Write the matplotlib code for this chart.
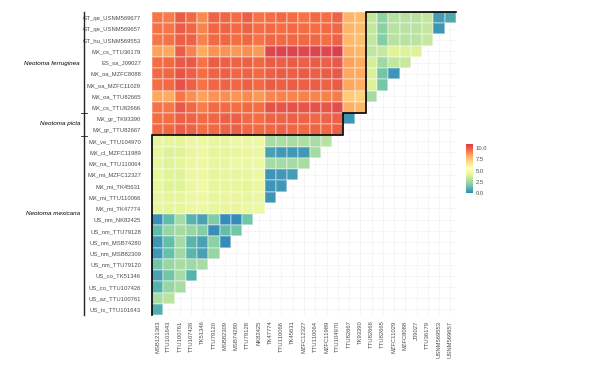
import numpy as np
import matplotlib
matplotlib.use("Agg")
import matplotlib.pyplot as plt
from matplotlib.colors import LinearSegmentedColormap, Normalize

plt.rcParams['font.family'] = ['Liberation Sans', 'DejaVu Sans']

# row labels (top to bottom) and column labels (left to right)
row_labels = ["GT_qe_USNM569677", "GT_qe_USNM569657", "GT_hu_USNM569553", "MX_cs_TTU36179",
              "ES_sa_J09027", "MX_oa_MZFC8088", "MX_oa_MZFC11029", "MX_oa_TTU82665",
              "MX_cs_TTU82666", "MX_gr_TK93390", "MX_gr_TTU82667", "MX_ve_TTU104970",
              "MX_cl_MZFC11989", "MX_na_TTU110064", "MX_mi_MZFC12327", "MX_mi_TK45631",
              "MX_mi_TTU110066", "MX_mi_TK47774", "US_nm_NK82425", "US_nm_TTU79128",
              "US_nm_MSB74280", "US_nm_MSB82309", "US_nm_TTU79120", "US_co_TK51346",
              "US_co_TTU107426", "US_az_TTU100761", "US_tx_TTU101643"]
col_labels = ["MSB121363", "TTU101643", "TTU100761", "TTU107426", "TK51346", "TTU79120",
              "MSB82309", "MSB74280", "TTU79128", "NK82425", "TK47774", "TTU110066",
              "TK45631", "MZFC12327", "TTU110064", "MZFC11989", "TTU104970", "TTU82667",
              "TK93390", "TTU82666", "TTU82665", "MZFC11029", "MZFC8088", "J09027",
              "TTU36179", "USNM569553", "USNM569657"]

# ferruginea rows vs mexicana columns
ferr_vs_mex = [
    [9.3, 9.2, 10.0, 9.6, 8.9, 9.8, 9.7, 9.5, 9.9, 9.4, 9.5, 9.6, 9.5, 9.4, 9.6, 9.5, 9.8],
    [9.4, 9.3, 10.0, 9.7, 9.0, 9.7, 9.8, 9.6, 9.8, 9.5, 9.6, 9.5, 9.6, 9.5, 9.5, 9.6, 9.7],
    [9.3, 9.4, 9.9, 9.8, 9.1, 9.6, 9.7, 9.5, 9.7, 9.4, 9.7, 9.6, 9.7, 9.6, 9.7, 9.5, 9.8],
    [8.4, 8.3, 10.0, 9.1, 8.2, 8.7, 8.7, 8.6, 8.8, 8.6, 10.6, 10.7, 10.7, 10.6, 10.7, 10.6, 10.8],
    [9.5, 9.6, 10.1, 10.1, 9.4, 10.0, 9.9, 9.8, 9.9, 9.7, 10.0, 9.9, 10.0, 9.9, 10.0, 9.9, 10.1],
    [9.6, 9.7, 10.2, 9.9, 9.5, 9.8, 9.9, 9.7, 9.8, 9.6, 9.9, 10.0, 9.9, 10.0, 9.9, 10.0, 10.1],
    [9.5, 9.6, 10.3, 9.9, 9.4, 9.7, 9.8, 9.7, 9.9, 9.6, 10.0, 9.9, 10.0, 9.9, 10.0, 9.8, 10.0],
    [8.3, 8.2, 9.3, 8.8, 8.4, 8.7, 8.8, 8.7, 8.9, 8.6, 9.0, 9.1, 9.0, 9.1, 9.0, 9.1, 9.2],
    [9.4, 9.3, 10.1, 9.7, 9.2, 9.6, 9.6, 9.5, 9.6, 9.5, 10.3, 10.2, 10.3, 10.2, 10.3, 10.2, 10.4],
]
# ferruginea rows vs picta columns
ferr_vs_picta = [[8.0, 7.8], [8.0, 7.8], [7.9, 7.7], [8.1, 7.9], [8.4, 8.2],
                 [8.3, 8.2], [8.3, 8.1], [7.4, 7.2], [8.1, 7.9]]
# within ferruginea
ferr_within = [
    [3.3, 2.2, 3.0, 3.0, 3.1, 3.3, 0.5, 0.8],
    [3.3, 2.1, 3.0, 3.0, 3.1, 3.3, 0.3],
    [3.3, 2.0, 3.0, 3.0, 3.1, 3.4],
    [3.2, 3.4, 4.0, 3.9, 3.9],
    [3.7, 2.5, 3.3, 3.4],
    [3.8, 1.6, 0.3],
    [3.9, 1.7],
    [2.6],
]
# picta rows vs mexicana columns
picta_vs_mex = [
    [9.5, 9.5, 9.9, 9.8, 9.6, 9.7, 9.9, 9.9, 9.6, 9.5, 9.8, 9.8, 9.9, 9.8, 9.7, 9.8, 9.9],
    [9.6, 9.7, 10.0, 9.8, 9.5, 9.6, 9.8, 9.9, 9.7, 9.6, 9.7, 9.8, 9.7, 9.6, 9.8, 9.7, 9.9],
]
picta_within = [0.3]
# Mexican mexicana rows vs US mexicana columns
mx_vs_us = [
    [4.3, 4.2, 4.1, 4.4, 4.5, 4.3, 4.3, 4.4, 4.4, 4.5],
    [4.2, 3.9, 4.0, 4.3, 4.5, 4.2, 4.2, 4.3, 4.3, 4.4],
    [4.2, 4.0, 4.1, 4.4, 4.5, 4.3, 4.3, 4.4, 4.4, 4.5],
    [4.2, 4.0, 3.9, 4.4, 4.5, 4.1, 4.3, 4.2, 4.3, 4.5],
    [4.3, 4.0, 4.0, 4.4, 4.6, 4.2, 4.2, 4.3, 4.1, 4.4],
    [4.3, 4.1, 4.2, 4.4, 4.5, 4.2, 4.3, 4.3, 4.3, 4.4],
    [4.3, 4.2, 4.2, 4.4, 4.5, 4.3, 4.3, 4.3, 4.4, 4.5],
]
mx_within = [
    [2.7, 2.8, 2.7, 2.8, 2.7, 3.0],
    [0.6, 0.4, 0.4, 0.4, 2.6],
    [2.6, 2.6, 2.6, 2.7],
    [0.3, 0.4, 0.5],
    [0.3, 0.4],
    [0.3],
]
us_within = [
    [0.2, 1.2, 2.6, 1.0, 0.6, 1.9, 0.1, 0.1, 1.6],
    [1.2, 2.3, 2.6, 2.4, 2.0, 0.2, 1.3, 1.6],
    [0.3, 1.3, 2.6, 1.1, 0.6, 2.1, 0.1],
    [0.4, 1.4, 2.5, 1.1, 0.6, 2.3],
    [1.6, 2.4, 2.7, 2.5, 2.6],
    [0.6, 1.6, 2.6, 1.0],
    [1.0, 2.3, 2.7],
    [2.7, 3.1],
    [0.9],
]

n = len(row_labels)
M = np.full((n, n), np.nan)
for i, r in enumerate(ferr_vs_mex):
    M[i, 0:17] = r
    M[i, 17:19] = ferr_vs_picta[i]
for i, r in enumerate(ferr_within):
    M[i, 19:19 + len(r)] = r
for i, r in enumerate(picta_vs_mex):
    M[9 + i, 0:17] = r
M[9, 17] = picta_within[0]
for i, r in enumerate(mx_vs_us):
    M[11 + i, 0:10] = r
for i, r in enumerate(mx_within):
    M[11 + i, 10:10 + len(r)] = r
for i, r in enumerate(us_within):
    M[18 + i, 0:len(r)] = r

spectral9 = ["#3288BD", "#66C2A5", "#ABDDA4", "#E6F598", "#FFFFBF",
             "#FEE08B", "#FDAE61", "#F46D43", "#D53E4F"]
cmap = LinearSegmentedColormap.from_list("spec", spectral9)
norm = Normalize(vmin=0.0, vmax=10.9)

W, H = 589, 365
fig = plt.figure(figsize=(W / 100, H / 100), dpi=100)
ax = fig.add_axes([152 / W, 1 - 315 / H, 304 / W, 303 / H])

# faint background grid
for k in range(n):
    ax.axvline(k, color="#EEEEEE", lw=0.4, zorder=0)
    ax.axhline(k, color="#EEEEEE", lw=0.4, zorder=0)

edges = np.arange(n + 1) - 0.5
ax.pcolormesh(edges, edges, np.ma.masked_invalid(M), cmap=cmap, norm=norm,
              edgecolors=(1, 1, 1, 0.25), linewidth=0.2, zorder=1)
ax.set_xlim(-0.5, n - 0.5)
ax.set_ylim(n - 0.5, -0.5)

# outline separating species blocks
px = [-0.5, -0.5, 16.5, 16.5, 18.5, 18.5, 26.5]
py = [26.5, 10.5, 10.5, 8.5, 8.5, -0.5, -0.5]
ax.plot(px, py, color="black", lw=1.2, clip_on=False, zorder=3, solid_joinstyle="miter")

for s in ax.spines.values():
    s.set_visible(False)
ax.set_xticks(range(n))
ax.set_xticklabels(col_labels, rotation=90, fontsize=4.2, color="#4D4D4D")
ax.set_yticks(range(n))
ax.set_yticklabels(row_labels, fontsize=4.2, color="#4D4D4D")
ax.tick_params(axis="y", length=0, pad=8)
ax.tick_params(axis="x", length=0, pad=4)

# species brackets on the left
def fy(y):
    return 1 - y / H

fig.add_artist(plt.Line2D([84 / W, 84 / W], [fy(12), fy(315)], color="#222222", lw=1.0))
for yy in (113, 136):
    fig.add_artist(plt.Line2D([81 / W, 87 / W], [fy(yy), fy(yy)], color="#222222", lw=0.6))
for lab, yy in [("Neotoma ferruginea", 63), ("Neotoma picta", 123), ("Neotoma mexicana", 213)]:
    fig.text(80 / W, fy(yy), lab, ha="right", va="center", fontsize=4.5, style="italic", color="black")

# colour bar
cax = fig.add_axes([466 / W, 1 - 193 / H, 7 / W, 49 / H])
cb = fig.colorbar(plt.cm.ScalarMappable(norm=norm, cmap=cmap), cax=cax)
cb.outline.set_visible(False)
cb.set_ticks([0, 2.5, 5, 7.5, 10])
cb.set_ticklabels(["0.0", "2.5", "5.0", "7.5", "10.0"])
cax.tick_params(length=0, labelsize=4.2, labelcolor="#4D4D4D", pad=2)

fig.savefig("out.png", dpi=100)
